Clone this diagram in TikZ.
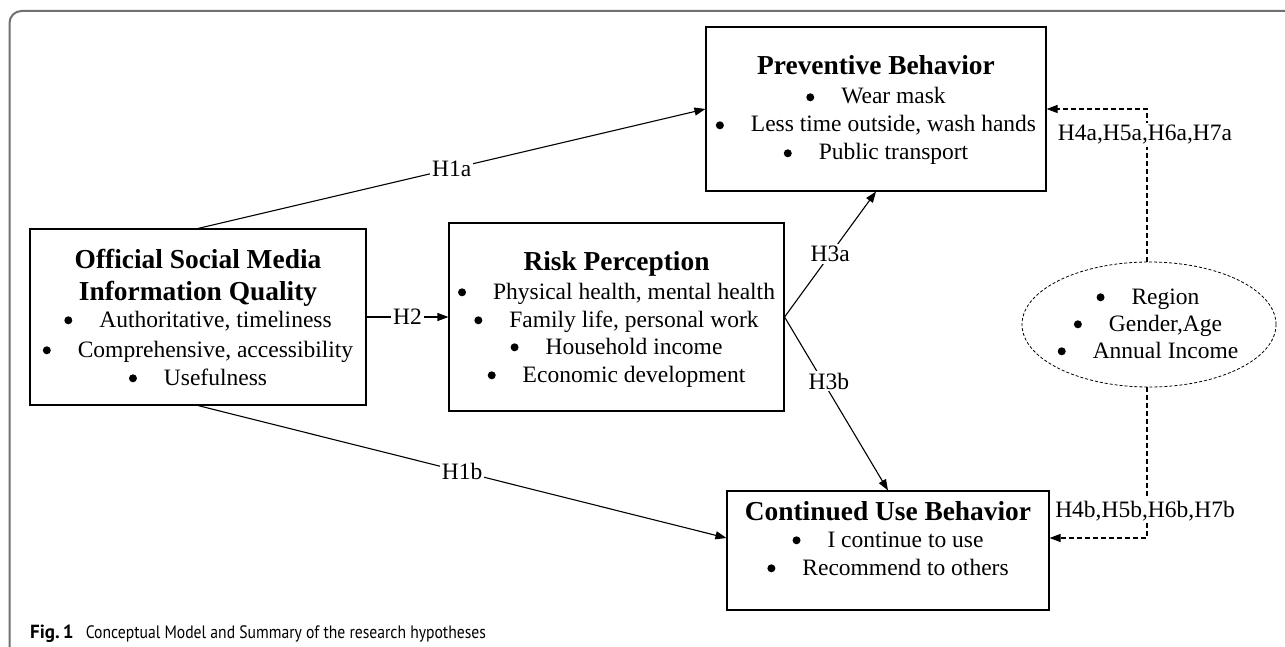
\documentclass[tikz,border=0pt]{standalone}
\usepackage{fontspec}
\usepackage{graphicx}
\setmainfont{Liberation Serif}
\newfontfamily\capfont{PT Sans}
\usetikzlibrary{arrows.meta,shapes.geometric,calc}
\definecolor{framegray}{RGB}{112,112,112}
\newcommand\ttlfont{\fontsize{27.4}{32}\selectfont\bfseries}
\newcommand\itmfont{\fontsize{23.5}{28}\selectfont}
\newcommand\bul{\tikz[x=1pt,y=1pt,baseline=-6.7pt]\fill[black] (0,0) circle (4pt);\hspace{27pt}}
\begin{document}
\begin{tikzpicture}[x=1pt,y=-1pt,
  box/.style={draw=black, line width=1.1pt, inner sep=0pt},
  ttl/.style={anchor=base, inner sep=0pt, font=\ttlfont},
  itm/.style={anchor=base, inner sep=0pt, font=\itmfont},
  lab/.style={fill=white, inner sep=2pt, font=\itmfont},
  arr/.style={-{Triangle[length=11pt,width=8pt]}, line width=1.1pt},
  darr/.style={-{Triangle[length=11pt,width=8pt]}, line width=1.1pt, dash pattern=on 5pt off 3pt}]
\clip (0,0) rectangle (1285,647);
% frame
\draw[framegray, line width=2pt, rounded corners=12pt] (9.5,700) -- (9.5,11) -- (1320,11);
% boxes
\node[box, minimum width=340pt, minimum height=164pt] (pb) at (876,109) {};
\node[box, minimum width=336pt, minimum height=176pt] (osm) at (198,317) {};
\node[box, minimum width=335pt, minimum height=188pt] (rp) at (616.5,317) {};
\node[box, minimum width=322pt, minimum height=119pt] (cu) at (888,550.5) {};
\node[ellipse, draw=black, line width=0.8pt, dash pattern=on 3pt off 2pt, minimum width=254pt, minimum height=125pt, inner sep=0pt] (ell) at (1149,324.5) {};
% texts
\node[ttl] (pbt) at (876,75) {Preventive Behavior};
\node[itm] (pb1) at (876,104) {\bul Wear mask};
\node[itm] (pb2) at (876,132) {\bul Less time outside, wash hands};
\node[itm] (pb3) at (876,160) {\bul Public transport};
\node[ttl] (osmt1) at (198,268) {Official Social Media};
\node[ttl] (osmt2) at (198,300) {Information Quality};
\node[itm] (osm1) at (198,327) {\bul Authoritative, timeliness};
\node[itm] (osm2) at (198,357) {\bul Comprehensive, accessibility};
\node[itm] (osm3) at (198,385) {\bul Usefulness};
\node[ttl] (rpt) at (616.5,270) {Risk Perception};
\node[itm] (rp1) at (616.5,299) {\bul Physical health, mental health};
\node[itm] (rp2) at (616.5,327) {\bul Family life, personal work};
\node[itm] (rp3) at (616.5,354) {\bul Household income};
\node[itm] (rp4) at (616.5,382) {\bul Economic development};
\node[ttl] (cut) at (888,520) {Continued Use Behavior};
\node[itm] (cu1) at (888,547) {\bul I continue to use};
\node[itm] (cu2) at (888,575) {\bul Recommend to others};
\node[itm] (el1) at (1148,304) {\bul Region};
\node[itm] (el2) at (1148,331) {\bul Gender,Age};
\node[itm] (el3) at (1148,358) {\bul Annual Income};
% connectors
\draw[arr] (osm.north) -- node[lab, midway] (h1a) {H1a} (pb.west);
\draw[arr] (osm.south) -- node[lab, midway] (h1b) {H1b} ([yshift=12.5pt]cu.west);
\draw[arr] (osm.east) -- node[lab, midway] (h2) {H2} (rp.west);
\draw[arr] (rp.east) -- node[lab, pos=0.5] (h3a) {H3a} (pb.south);
\draw[arr] (rp.east) -- node[lab, pos=0.37, xshift=6pt] (h3b) {H3b} (cu.north);
\coordinate (ta) at (1147,109);
\coordinate (tb) at (1147,538);
\draw[darr] (ell.north -| ta) -- (ta) -- (pb.east |- ta);
\draw[darr] (ell.south -| tb) -- (tb) -- (cu.east |- tb);
\node[lab] (h4a) at (1145,135) {H4a,H5a,H6a,H7a};
\node[lab] (h4b) at (1145,511) {H4b,H5b,H6b,H7b};
% caption
\node[anchor=base west, inner sep=0pt, font=\capfont] (cap) at (30,638) {{\fontsize{19}{22}\selectfont\bfseries Fig.\,1}\hspace{12pt}\scalebox{0.87}[1]{\fontsize{18}{22}\selectfont Conceptual Model and Summary of the research hypotheses}};
\end{tikzpicture}
\end{document}
